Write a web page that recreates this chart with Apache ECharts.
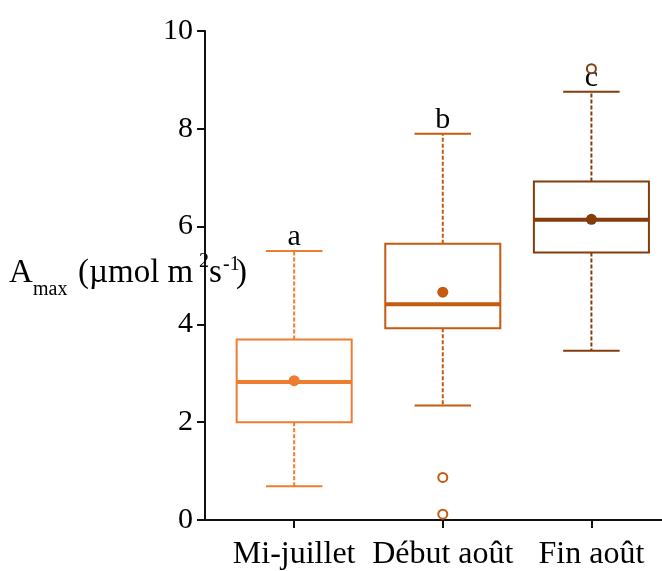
<!DOCTYPE html>
<html><head><meta charset="utf-8">
<script src="https://cdn.jsdelivr.net/npm/echarts@6/dist/echarts.min.js"></script>
<style>html,body{margin:0;padding:0;background:#fff}#c{width:662px;height:571px}</style>
</head><body><div id="c"></div>
<script>
const categories = ['Mi-juillet', 'Début août', 'Fin août'];
const lowerWhisker = [0.69, 2.34, 3.46];
const q1 = [2.00, 3.92, 5.47];
const median = [2.82, 4.41, 6.14];
const q3 = [3.69, 5.65, 6.92];
const upperWhisker = [5.50, 7.90, 8.76];
const means = [2.85, 4.66, 6.15];
const outlierGroup = [1, 1, 2];
const outlierValues = [0.87, 0.12, 9.23];
const groupLetters = ['a', 'b', 'c'];
const yTicks = [0, 2, 4, 6, 8, 10];
const colors = ['#ED7D31', '#C55A11', '#843C0C'];
const FONT = '"Liberation Serif","Times New Roman",serif';

const boxData = categories.map((c, i) => [i + 1, lowerWhisker[i], q1[i], median[i], q3[i], upperWhisker[i]]);
const meanData = means.map((m, i) => ({value: [i + 1, m], itemStyle: {color: colors[i]}}));
const outlierData = outlierValues.map((v, k) => ({value: [outlierGroup[k] + 1, v], itemStyle: {color: colors[outlierGroup[k]]}}));

function renderBox(params, api) {
  const i = params.dataIndex;
  const x = api.value(0);
  const c = colors[i];
  const lw = api.coord([x, api.value(1)]);
  const b1 = api.coord([x, api.value(2)]);
  const md = api.coord([x, api.value(3)]);
  const b3 = api.coord([x, api.value(4)]);
  const uw = api.coord([x, api.value(5)]);
  const half = api.size([0.387, 0])[0];
  const capHalf = api.size([0.19, 0])[0];
  const px = lw[0];
  return {
    type: 'group',
    children: [
      {type: 'line', shape: {x1: px, y1: b3[1], x2: px, y2: uw[1]}, style: {stroke: c, lineWidth: 2, lineDash: [4, 2]}},
      {type: 'line', shape: {x1: px, y1: b1[1], x2: px, y2: lw[1]}, style: {stroke: c, lineWidth: 2, lineDash: [4, 2]}},
      {type: 'line', shape: {x1: px - capHalf, y1: uw[1], x2: px + capHalf, y2: uw[1]}, style: {stroke: c, lineWidth: 2}},
      {type: 'line', shape: {x1: px - capHalf, y1: lw[1], x2: px + capHalf, y2: lw[1]}, style: {stroke: c, lineWidth: 2}},
      {type: 'rect', shape: {x: px - half, y: b3[1], width: 2 * half, height: b1[1] - b3[1]}, style: {fill: null, stroke: c, lineWidth: 2}},
      {type: 'line', shape: {x1: px - half, y1: md[1], x2: px + half, y2: md[1]}, style: {stroke: c, lineWidth: 4}},
      {type: 'text', style: {text: groupLetters[i], x: px, y: uw[1] + 1, align: 'center', verticalAlign: 'bottom', font: '30px ' + FONT, fill: '#000'}}
    ]
  };
}

function tt(text, x, baseline, size) {
  return {type: 'text', z: 100, style: {text: text, x: x, y: baseline - 0.305 * size, align: 'left', verticalAlign: 'middle', font: size + 'px ' + FONT, fill: '#000'}};
}

const chart = echarts.init(document.getElementById('c'));
chart.setOption({
  backgroundColor: '#fff',
  animation: false,
  grid: {left: 205, right: 0, top: 31, bottom: 48, containLabel: false},
  xAxis: {
    type: 'value', min: 0.4, max: 3.475,
    splitLine: {show: false},
    axisLine: {show: true, lineStyle: {color: '#111', width: 2}},
    axisTick: {show: true, customValues: [1, 2, 3], length: 8, lineStyle: {color: '#111', width: 2}},
    axisLabel: {customValues: [1, 2, 3], formatter: v => categories[Math.round(v) - 1] || '', fontFamily: FONT, fontSize: 32, color: '#000', margin: 19}
  },
  yAxis: {
    type: 'value', min: yTicks[0], max: yTicks[yTicks.length - 1], interval: 2,
    splitLine: {show: false},
    axisLine: {show: true, lineStyle: {color: '#111', width: 2}},
    axisTick: {show: true, length: 8, lineStyle: {color: '#111', width: 2}},
    axisLabel: {fontFamily: FONT, fontSize: 30, color: '#000', margin: 12}
  },
  graphic: [
    tt('A', 9, 283, 33),
    tt('max', 33, 296, 20),
    tt('(µmol m', 78, 283, 33),
    tt('2', 199, 268, 20),
    tt('s', 209, 283, 33),
    tt('-1', 223, 271, 20),
    tt(')', 236, 283, 33)
  ],
  series: [
    {type: 'custom', renderItem: renderBox, data: boxData, encode: {x: 0, y: [1, 2, 3, 4, 5]}, z: 2, clip: false},
    {type: 'scatter', data: meanData, symbol: 'circle', symbolSize: 11, itemStyle: {opacity: 1}, z: 3},
    {type: 'scatter', data: outlierData, symbol: 'emptyCircle', symbolSize: 9, itemStyle: {borderWidth: 2, opacity: 1}, z: 3}
  ]
});
</script>
</body></html>
